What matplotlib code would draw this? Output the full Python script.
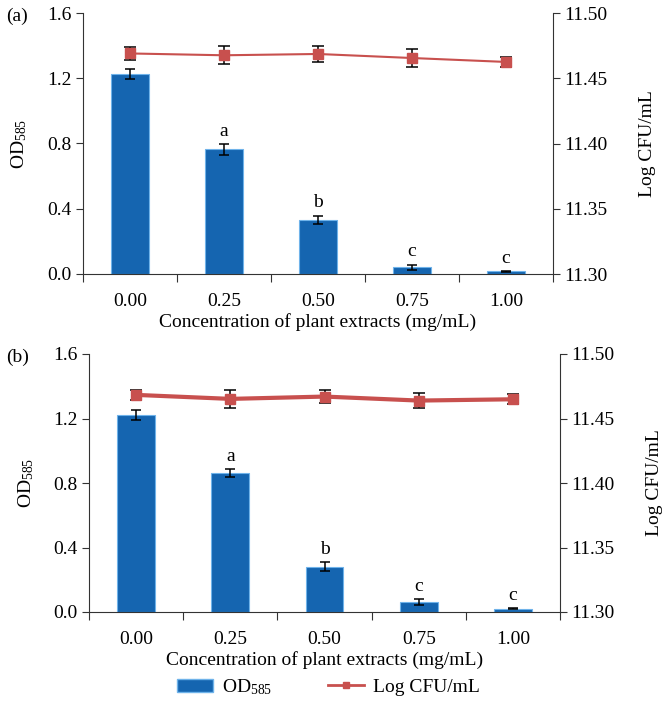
import matplotlib
matplotlib.use("Agg")
import matplotlib.pyplot as plt
from matplotlib.patches import Patch
from matplotlib.lines import Line2D

plt.rcParams['font.family'] = ['Liberation Serif', 'DejaVu Serif']
plt.rcParams['mathtext.fontset'] = 'custom'
plt.rcParams['mathtext.rm'] = 'Liberation Serif'
plt.rcParams['mathtext.it'] = 'Liberation Serif:italic'

# data
concentrations = ['0.00', '0.25', '0.50', '0.75', '1.00']
letters = ['', 'a', 'b', 'c', 'c']

od_a = [1.224, 0.764, 0.331, 0.041, 0.016]
od_err_a = [0.030, 0.032, 0.027, 0.017, 0.004]
cfu_a = [11.469, 11.4676, 11.4686, 11.4655, 11.4625]
cfu_err_a = [0.005, 0.007, 0.006, 0.007, 0.0036]

od_b = [1.221, 0.862, 0.280, 0.062, 0.021]
od_err_b = [0.031, 0.026, 0.028, 0.017, 0.003]
cfu_b = [11.4683, 11.4652, 11.467, 11.4639, 11.4649]
cfu_err_b = [0.004, 0.007, 0.005, 0.006, 0.004]

BAR = '#1565b0'
BAR_EDGE = '#6fb3ea'
RED = '#c8504e'
SPINE = '#333333'
FS = 14
W, H = 662, 703

fig = plt.figure(figsize=(W / 100, H / 100), dpi=100)


def panel(rect_px, od, od_err, cfu, cfu_err, tag, lw, lab_left, lab_right):
    l, t, r, b = rect_px
    ax = fig.add_axes([l / W, 1 - b / H, (r - l) / W, (b - t) / H])
    x = range(len(concentrations))
    ax.bar(x, od, width=0.4, color=BAR, edgecolor=BAR_EDGE, linewidth=0.8, zorder=2)
    ax.errorbar(x, od, yerr=od_err, fmt='none', ecolor='black', elinewidth=1.1,
                capsize=3.5, capthick=1.1, zorder=3)
    for xi, v, e, s in zip(x, od, od_err, letters):
        if s:
            ax.annotate(s, (xi, v + e), xytext=(0, 3), textcoords='offset points',
                        ha='center', va='bottom', fontsize=FS)
    ax.set_xlim(-0.5, 4.5)
    ax.set_ylim(0, 1.6)
    ax.set_yticks([0.0, 0.4, 0.8, 1.2, 1.6])
    ax.set_yticklabels(['0.0', '0.4', '0.8', '1.2', '1.6'])
    ax.set_xticks([i - 0.5 for i in range(6)])
    ax.set_xticklabels([])
    ax.set_xticks(list(x), minor=True)
    ax.set_xticklabels(concentrations, minor=True)
    ax.tick_params(axis='x', which='minor', length=0, pad=14, labelsize=FS)
    ax.tick_params(axis='x', which='major', length=6, direction='out', color=SPINE)
    ax.tick_params(axis='y', length=5, direction='out', color=SPINE, labelsize=FS, pad=3)
    ax.set_ylabel('OD$_{585}$', fontsize=FS)
    ax.yaxis.set_label_coords(lab_left, 0.5)
    for sp in ['top', 'right']:
        ax.spines[sp].set_visible(False)
    for sp in ['left', 'bottom']:
        ax.spines[sp].set_color(SPINE)

    ax2 = ax.twinx()
    ax2.errorbar(x, cfu, yerr=cfu_err, color=RED, lw=lw, marker='s', ms=7,
                 mfc=RED, mec=RED, ecolor='black', elinewidth=1.1, capsize=4,
                 capthick=1.1, zorder=4)
    ax2.set_ylim(11.30, 11.50)
    ax2.set_yticks([11.30, 11.35, 11.40, 11.45, 11.50])
    ax2.set_yticklabels(['11.30', '11.35', '11.40', '11.45', '11.50'])
    ax2.tick_params(axis='y', length=5, direction='out', color=SPINE, labelsize=FS, pad=3)
    ax2.set_ylabel('Log CFU/mL', fontsize=FS)
    ax2.yaxis.set_label_coords(lab_right, 0.5)
    for sp in ['top', 'left', 'bottom']:
        ax2.spines[sp].set_visible(False)
    ax2.spines['right'].set_color(SPINE)

    ax.set_xlabel('Concentration of plant extracts (mg/mL)', fontsize=FS, labelpad=2)
    fig.text(6 / W, 1 - (t + 3) / H, tag, fontsize=FS, ha='left', va='center')
    return ax


panel((83, 13, 553, 274), od_a, od_err_a, cfu_a, cfu_err_a, '(a)', 1.5, -0.115, 1.182)
panel((89, 354, 560, 612), od_b, od_err_b, cfu_b, cfu_err_b, '(b)', 3.0, -0.113, 1.183)

handles = [Patch(facecolor=BAR, edgecolor=BAR_EDGE),
           Line2D([], [], color=RED, lw=2, marker='s', ms=5, mfc=RED, mec=RED)]
fig.legend(handles, ['OD$_{585}$', 'Log CFU/mL'], loc='center',
           bbox_to_anchor=(0.496, 1 - 687 / H), ncol=2, frameon=False,
           fontsize=FS, handlelength=1.85, handletextpad=0.45, columnspacing=2.9)

fig.savefig('out.png', dpi=100)
